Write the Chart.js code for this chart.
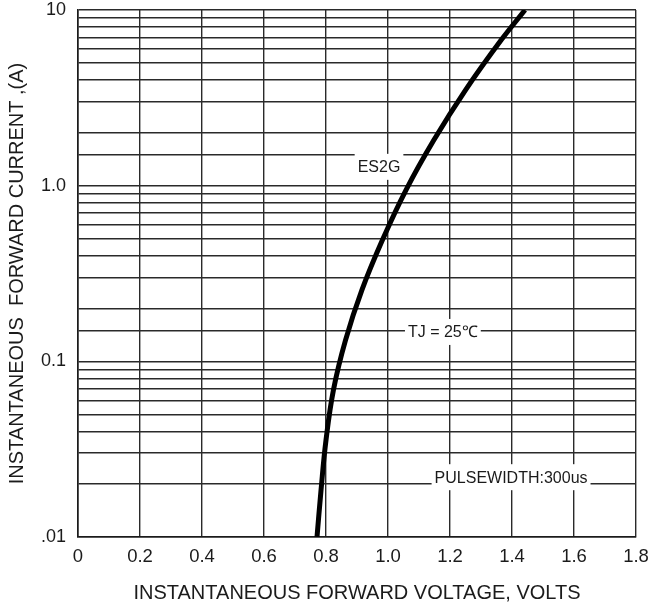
<!DOCTYPE html>
<html>
<head>
<meta charset="utf-8">
<script src="https://cdn.jsdelivr.net/npm/chart.js@4.4.1/dist/chart.umd.min.js"></script>
<style>
  html, body { margin: 0; padding: 0; background: #fff; }
  #wrap { width: 651px; height: 607px; }
</style>
</head>
<body>
<div id="wrap"><canvas id="myChart"></canvas></div>
<script>
// forward voltage (V) vs instantaneous forward current (A)
const voltage = [0.771, 0.784, 0.800, 0.824, 0.863, 0.916, 0.982, 1.058, 1.148, 1.250, 1.365, 1.442];
const current = [0.0100, 0.0185, 0.0356, 0.0687, 0.132, 0.255, 0.490, 0.944, 1.818, 3.50, 6.74, 10];

const xTicks = [0, 0.2, 0.4, 0.6, 0.8, 1.0, 1.2, 1.4, 1.6, 1.8];
const xTickLabels = ['0', '0.2', '0.4', '0.6', '0.8', '1.0', '1.2', '1.4', '1.6', '1.8'];
const yTicks = [10, 1, 0.1, 0.01];
const yTickLabels = ['10', '1.0', '0.1', '.01'];

const noteTexts = ['ES2G', 'TJ = 25\u2103', 'PULSEWIDTH:300us'];
const noteVolts = [0.971, 1.177, 1.397];
const noteAmps = [1.28, 0.147, 0.0219];

const ink = '#1b1b1b';
const gridInk = '#2a2a2a';
const fontFam = '"Liberation Sans", Arial, sans-serif';

const notes = {
    id: 'notes',
    beforeDatasetsDraw(chart) {
        const c = chart.ctx;
        const xs = chart.scales.x, ys = chart.scales.y;
        c.save();
        c.font = '16px ' + fontFam;
        c.textAlign = 'center';
        c.textBaseline = 'middle';
        noteTexts.forEach((t, i) => {
            const px = xs.getPixelForValue(noteVolts[i]);
            const py = ys.getPixelForValue(noteAmps[i]);
            const w = c.measureText(t).width + 6;
            c.fillStyle = '#fff';
            c.fillRect(px - w / 2, py - 13, w, 26);
            c.fillStyle = ink;
            c.fillText(t, px, py + 1);
        });
        c.restore();
    }
};

const ctx = document.getElementById('myChart');

new Chart(ctx, {
    type: 'line',
    data: {
        datasets: [{
            data: voltage.map((v, i) => ({ x: v, y: current[i] })),
            borderColor: '#000',
            borderWidth: 5,
            pointRadius: 0,
            tension: 0.4,
            fill: false
        }]
    },
    options: {
        responsive: true,
        maintainAspectRatio: false,
        animation: false,
        layout: { padding: { top: 10, right: 15, left: 0, bottom: 0 } },
        plugins: {
            legend: { display: false },
            tooltip: { enabled: false }
        },
        scales: {
            x: {
                type: 'linear',
                min: 0,
                max: 1.8,
                afterBuildTicks: (s) => { s.ticks = xTicks.map(v => ({ value: v })); },
                afterFit: (s) => { s.height = 70; s.paddingLeft = 0; s.paddingRight = 0; },
                grid: { color: gridInk, lineWidth: 1.4, drawTicks: false },
                border: { color: ink, width: 1.6 },
                ticks: {
                    autoSkip: false,
                    maxRotation: 0,
                    padding: 9,
                    color: ink,
                    font: { family: fontFam, size: 18.5 },
                    callback: (v) => {
                        const i = xTicks.findIndex(t => Math.abs(t - v) < 1e-6);
                        return i >= 0 ? xTickLabels[i] : '';
                    }
                },
                title: {
                    display: true,
                    text: 'INSTANTANEOUS FORWARD VOLTAGE, VOLTS',
                    color: ink,
                    font: { family: fontFam, size: 20 },
                    padding: { top: 0, bottom: 2 }
                }
            },
            y: {
                type: 'logarithmic',
                min: 0.01,
                max: 10,
                afterFit: (s) => { s.width = 78; s.paddingTop = 0; s.paddingBottom = 0; },
                grid: { color: gridInk, lineWidth: 1.4, drawTicks: false },
                border: { color: ink, width: 1.6 },
                ticks: {
                    autoSkip: false,
                    padding: 12,
                    color: ink,
                    font: { family: fontFam, size: 18 },
                    callback: (v) => {
                        const i = yTicks.findIndex(t => Math.abs(t - v) < t * 1e-6);
                        return i >= 0 ? yTickLabels[i] : '';
                    }
                },
                title: {
                    display: true,
                    text: 'INSTANTANEOUS  FORWARD CURRENT ,(A)',
                    color: ink,
                    font: { family: fontFam, size: 20 },
                    padding: { top: 5, bottom: 0 }
                }
            }
        }
    },
    plugins: [notes]
});
</script>
</body>
</html>
